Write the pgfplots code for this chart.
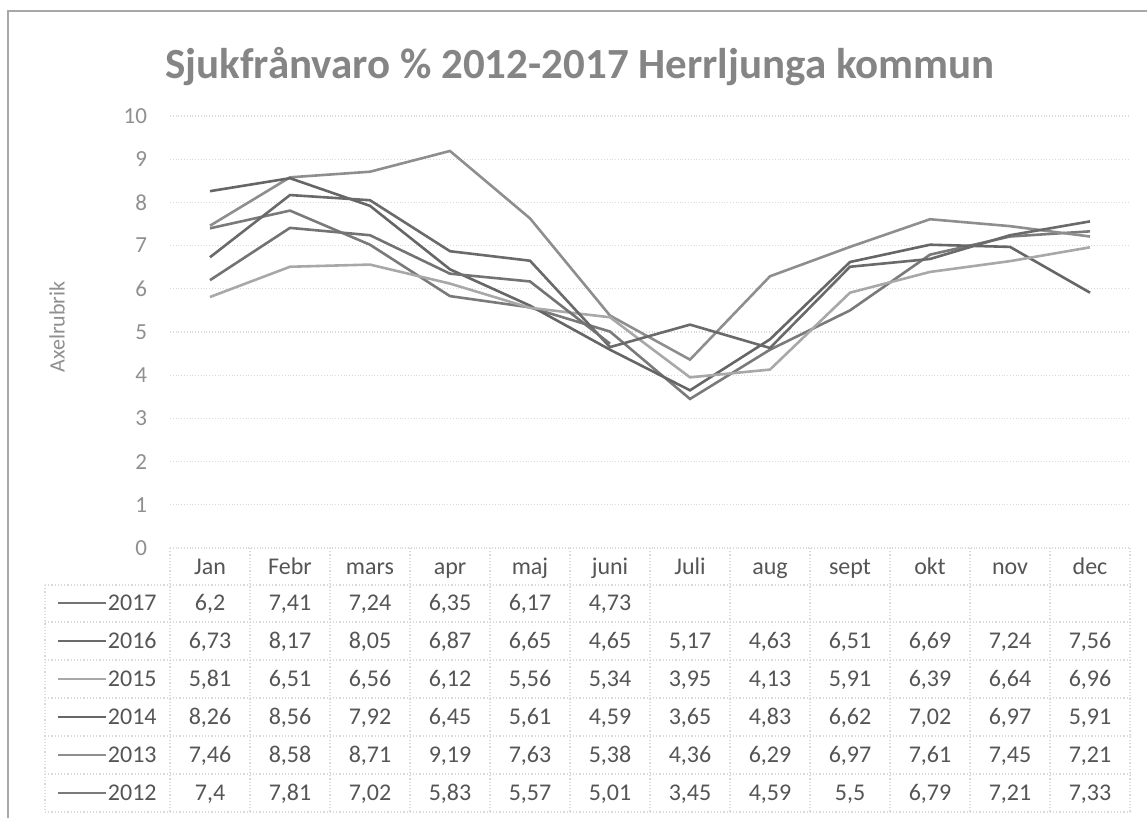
\documentclass[border=0pt]{standalone}
\usepackage{pgfplots}
\pgfplotsset{compat=1.18}
\usepackage{pgfplotstable}
\usepackage{fontspec}
\setmainfont{Carlito}
\definecolor{c17}{HTML}{737373}
\definecolor{c16}{HTML}{6A6A6A}
\definecolor{c15}{HTML}{A8A8A8}
\definecolor{c14}{HTML}{666666}
\definecolor{c13}{HTML}{8E8E8E}
\definecolor{c12}{HTML}{7A7A7A}
\definecolor{txt}{HTML}{555555}
\definecolor{ttl}{HTML}{858585}
\definecolor{tickc}{HTML}{8F8F8F}
\definecolor{gridc}{HTML}{DADADA}
\definecolor{framec}{HTML}{A8A8A8}
\tikzset{tabline/.style={gridc, densely dotted, line width=0.6pt}}

\pgfplotstableread{
m  a2017 a2016 a2015 a2014 a2013 a2012
0  6.2   6.73  5.81  8.26  7.46  7.4
1  7.41  8.17  6.51  8.56  8.58  7.81
2  7.24  8.05  6.56  7.92  8.71  7.02
3  6.35  6.87  6.12  6.45  9.19  5.83
4  6.17  6.65  5.56  5.61  7.63  5.57
5  4.73  4.65  5.34  4.59  5.38  5.01
6  nan   5.17  3.95  3.65  4.36  3.45
7  nan   4.63  4.13  4.83  6.29  4.59
8  nan   6.51  5.91  6.62  6.97  5.5
9  nan   6.69  6.39  7.02  7.61  6.79
10 nan   7.24  6.64  6.97  7.45  7.21
11 nan   7.56  6.96  5.91  7.21  7.33
}\data

\pgfplotsset{
  tabrow/.style={draw=none, no markers, nodes near coords={\pgfmathprintnumber[use comma,fixed,precision=2,assume math mode=true]{\pgfplotspointmeta}},
    point meta=explicit,
    every node near coord/.style={anchor=base, inner sep=0pt, font=\fontsize{12}{14}\selectfont, text=txt}},
}

\begin{document}
\begin{tikzpicture}
\path[use as bounding box] (0,0) rectangle (573.5pt,409pt);
\draw[framec, line width=0.8pt] (4pt,0) -- (4pt,403.5pt) -- (573.5pt,403.5pt);
\node[anchor=base, font=\fontsize{21.5}{24}\selectfont\bfseries, text=ttl] at (290pt,369.5pt) {Sjukfrånvaro \% 2012-2017 Herrljunga kommun};
\node[rotate=90, font=\fontsize{11}{13}\selectfont, text=tickc] at (28.5pt,245.5pt) {Axelrubrik};
\begin{axis}[
  at={(85pt,135pt)}, anchor=south west,
  scale only axis, width=480pt, height=216pt,
  xmin=-0.5, xmax=11.5, ymin=0, ymax=10,
  clip=false,
  axis line style={draw=none},
  major tick length=0pt,
  ytick={0,1,...,10},
  xtick={0,1,...,11},
  xticklabels={Jan,Febr,mars,apr,maj,juni,Juli,aug,sept,okt,nov,dec},
  xticklabel style={anchor=base, yshift=-13.25pt, font=\fontsize{12}{14}\selectfont, text=txt},
  yticklabel style={anchor=east, xshift=-8pt, font=\fontsize{11.5}{13}\selectfont, text=tickc},
  /pgf/number format/assume math mode=true,
  ymajorgrids, grid style={gridc, densely dotted, line width=0.6pt},
]
% table grid
\pgfplotsinvokeforeach{-0.5,0.5,1.5,2.5,3.5,4.5,5.5,6.5,7.5,8.5,9.5,10.5,11.5}{
  \draw[tabline] (axis cs:#1,0) -- (axis cs:#1,-6.111);
}
\pgfplotsinvokeforeach{-0.856,-1.713,-2.593,-3.472,-4.352,-5.231,-6.111}{
  \draw[tabline] (axis cs:-2.0625,#1) -- (axis cs:11.5,#1);
}
\draw[tabline] (axis cs:-2.0625,-0.856) -- (axis cs:-2.0625,-6.111);

% lines
\addplot[c12, line width=1.3pt, no markers] table[x=m, y=a2012] {\data};
\addplot[c13, line width=1.3pt, no markers] table[x=m, y=a2013] {\data};
\addplot[c14, line width=1.3pt, no markers] table[x=m, y=a2014] {\data};
\addplot[c15, line width=1.3pt, no markers] table[x=m, y=a2015] {\data};
\addplot[c16, line width=1.3pt, no markers] table[x=m, y=a2016] {\data};
\addplot[c17, line width=1.3pt, no markers, unbounded coords=jump] table[x=m, y=a2017] {\data};

% data table rows
\addplot[tabrow, skip coords between index={6}{12}] table[x=m, y expr=-1.447, meta=a2017] {\data};
\addplot[tabrow] table[x=m, y expr=-2.326, meta=a2016] {\data};
\addplot[tabrow] table[x=m, y expr=-3.206, meta=a2015] {\data};
\addplot[tabrow] table[x=m, y expr=-4.086, meta=a2014] {\data};
\addplot[tabrow] table[x=m, y expr=-4.965, meta=a2013] {\data};
\addplot[tabrow] table[x=m, y expr=-5.845, meta=a2012] {\data};

% legend keys
\draw[c17, line width=1.3pt] (axis cs:-1.9,-1.273) -- (axis cs:-1.3,-1.273);
\draw[c16, line width=1.3pt] (axis cs:-1.9,-2.153) -- (axis cs:-1.3,-2.153);
\draw[c15, line width=1.3pt] (axis cs:-1.9,-3.032) -- (axis cs:-1.3,-3.032);
\draw[c14, line width=1.3pt] (axis cs:-1.9,-3.912) -- (axis cs:-1.3,-3.912);
\draw[c13, line width=1.3pt] (axis cs:-1.9,-4.792) -- (axis cs:-1.3,-4.792);
\draw[c12, line width=1.3pt] (axis cs:-1.9,-5.671) -- (axis cs:-1.3,-5.671);
\node[anchor=base east, inner sep=0pt, font=\fontsize{12}{14}\selectfont, text=txt] at (axis cs:-0.6625,-1.447) {2017};
\node[anchor=base east, inner sep=0pt, font=\fontsize{12}{14}\selectfont, text=txt] at (axis cs:-0.6625,-2.326) {2016};
\node[anchor=base east, inner sep=0pt, font=\fontsize{12}{14}\selectfont, text=txt] at (axis cs:-0.6625,-3.206) {2015};
\node[anchor=base east, inner sep=0pt, font=\fontsize{12}{14}\selectfont, text=txt] at (axis cs:-0.6625,-4.086) {2014};
\node[anchor=base east, inner sep=0pt, font=\fontsize{12}{14}\selectfont, text=txt] at (axis cs:-0.6625,-4.965) {2013};
\node[anchor=base east, inner sep=0pt, font=\fontsize{12}{14}\selectfont, text=txt] at (axis cs:-0.6625,-5.845) {2012};
\end{axis}
\end{tikzpicture}
\end{document}
